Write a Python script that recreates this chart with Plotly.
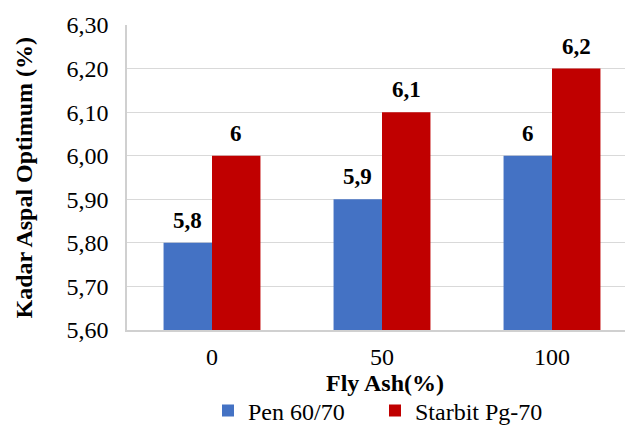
import plotly.graph_objects as go

# Optimum asphalt content by fly ash percentage
fly_ash = ["0", "50", "100"]
pen_60_70 = [5.8, 5.9, 6.0]
starbit_pg70 = [6.0, 6.1, 6.2]
y_ticks = [5.6, 5.7, 5.8, 5.9, 6.0, 6.1, 6.2, 6.3]

BLUE = "#4472C4"
RED = "#C00000"
GRID = "#D9D9D9"
FONT = "Liberation Serif"
FS = 24
FS_LABEL = 23

BARGAP = 0.43
bar_w = (1 - BARGAP) / 2
xpos = list(range(len(fly_ash)))


def fmt(v):
    return f"{v:g}".replace(".", ",")


fig = go.Figure()
fig.add_trace(go.Bar(name="Pen 60/70", x=xpos, y=pen_60_70,
                     marker=dict(color=BLUE, line=dict(width=0))))
fig.add_trace(go.Bar(name="Starbit Pg-70", x=xpos, y=starbit_pg70,
                     marker=dict(color=RED, line=dict(width=0))))

# value labels above each bar
for i, (a, b) in enumerate(zip(pen_60_70, starbit_pg70)):
    for xc, v in ((i - bar_w / 2, a), (i + bar_w / 2, b)):
        fig.add_annotation(x=xc, y=v, text=f"<b>{fmt(v)}</b>", showarrow=False,
                           xanchor="center", yanchor="bottom", yshift=8,
                           font=dict(family=FONT, size=FS_LABEL, color="black"))

W, H = 625, 426
L, R, T, B = 127, 0, 25, 96
plot_w = W - L - R
cat_px = 170.0

# axis titles
fig.add_annotation(xref="paper", yref="paper", x=0.5, y=0, yshift=-53,
                   xshift=(385 - (L + plot_w / 2)),
                   text="<b>Fly Ash(%)</b>", showarrow=False,
                   xanchor="center", yanchor="middle",
                   font=dict(family=FONT, size=FS, color="black"))
fig.add_annotation(xref="paper", yref="paper", x=0, y=0.5, xshift=-(L - 23),
                   text="<b>Kadar Aspal Optimum (%)</b>", showarrow=False,
                   textangle=-90, xanchor="center", yanchor="middle",
                   font=dict(family=FONT, size=FS, color="black"))

fig.update_layout(
    width=W, height=H,
    margin=dict(l=L, r=R, t=T, b=B, autoexpand=False),
    paper_bgcolor="white", plot_bgcolor="white",
    barmode="group", bargap=BARGAP, bargroupgap=0,
    separators=",.",
    font=dict(family=FONT, size=FS, color="black"),
    xaxis=dict(
        range=[-0.5, -0.5 + plot_w / cat_px],
        tickvals=xpos, ticktext=fly_ash,
        showgrid=False, zeroline=False, automargin=False,
        showline=True, linecolor="#D0D0D0", linewidth=1.5,
        ticks="", ticklabelstandoff=4,
        tickfont=dict(family=FONT, size=FS),
    ),
    yaxis=dict(
        range=[5.6, 6.3], tickvals=y_ticks, tickformat=".2f",
        showgrid=True, gridcolor=GRID, gridwidth=1.3,
        zeroline=False, automargin=False,
        showline=True, linecolor="#D0D0D0", linewidth=1.5,
        ticks="", ticklabelstandoff=12,
        tickfont=dict(family=FONT, size=FS),
    ),
    legend=dict(
        orientation="h", xref="container", yref="container",
        x=208 / W, xanchor="left", y=15 / H, yanchor="middle",
        entrywidth=122, entrywidthmode="pixels",
        font=dict(family=FONT, size=FS),
        bgcolor="rgba(0,0,0,0)",
    ),
    showlegend=True,
)

fig.write_html("out.html")
